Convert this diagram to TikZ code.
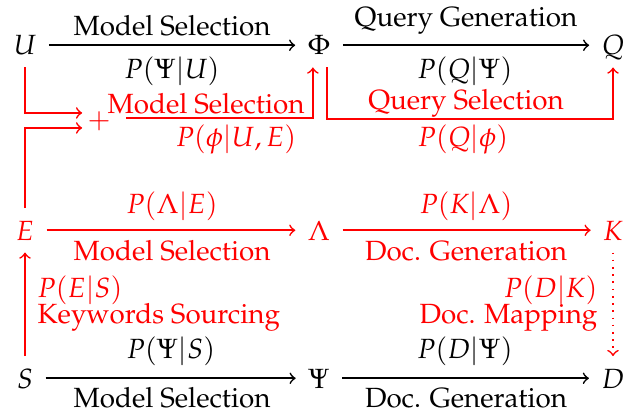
\documentclass[tikz,border=0pt]{standalone}
\usepackage[T1]{fontenc}
\usepackage{mathpazo}
\tikzset{
  mnode/.style={anchor=base, text height=7pt, text depth=0pt, inner sep=3.5pt, outer sep=1pt},
  lab/.style={anchor=base, inner sep=0pt},
  arr/.style={->, line width=0.6pt},
  redarr/.style={->, red, line width=0.6pt},
}
\begin{document}
\begin{tikzpicture}[x=0.36pt, y=-0.36pt]
\useasboundingbox (0,0) rectangle (636,415);
% main nodes
\node[mnode] (U)   at (25,55)   {$U$};
\node[mnode] (Phi) at (319,55)  {$\Phi$};
\node[mnode] (Q)   at (613,55)  {$Q$};
\node[mnode, red] (E)   at (25,240)  {$E$};
\node[mnode, red] (Lam) at (319,240) {$\Lambda$};
\node[mnode, red] (K)   at (613,240) {$K$};
\node[mnode] (S)   at (25,388)  {$S$};
\node[mnode] (Psi) at (319,388) {$\Psi$};
\node[mnode] (D)   at (613,388) {$D$};
\node[red, inner sep=0pt] (plus) at (99,121) {$+$};
% black arrows
\draw[arr] (U) -- (Phi);
\draw[arr] (Phi) -- (Q);
\draw[arr] (S) -- (Psi);
\draw[arr] (Psi) -- (D);
% red arrows
\draw[redarr] (E) -- (Lam);
\draw[redarr] (Lam) -- (K);
\draw[redarr] (S) -- (E);
\draw[redarr, dotted] (K) -- (D);
\draw[redarr] (U.south) |- ([xshift=-1.7pt,yshift=2.9pt]plus.west);
\draw[redarr] (E.north) |- ([xshift=-1.7pt,yshift=-2.5pt]plus.west);
\draw[redarr] ([xshift=5.5pt,yshift=1pt]plus.east) -| ([xshift=-2.2pt]Phi.south);
\coordinate (qline) at (466,119);
\draw[redarr] ([xshift=2.9pt]Phi.south) |- (qline) -| (Q.south);
% black labels
\node[lab] (l1) at (172,36) {Model Selection};
\node[lab] (l2) at (172,79) {$P(\Psi|U)$};
\node[lab] (l3) at (466,27) {Query Generation};
\node[lab] (l4) at (465,79) {$P(Q|\Psi)$};
\node[lab] (l5) at (171,358) {$P(\Psi|S)$};
\node[lab] (l6) at (172,407) {Model Selection};
\node[lab] (l7) at (465,358) {$P(D|\Psi)$};
\node[lab] (l8) at (466,407) {Doc. Generation};
% red labels
\begin{scope}[red]
\node[lab] (r1) at (206,114) {Model Selection};
\node[lab] (r2) at (236,147) {$P(\phi|U,E)$};
\node[lab] (r3) at (466,110) {Query Selection};
\node[lab] (r4) at (463,147) {$P(Q|\phi)$};
\node[lab] (r5) at (172,213) {$P(\Lambda|E)$};
\node[lab] (r6) at (172,260) {Model Selection};
\node[lab] (r7) at (466,213) {$P(K|\Lambda)$};
\node[lab] (r8) at (466,260) {Doc. Generation};
\node[lab, anchor=base west] (r9) at (37,297) {$P(E|S)$};
\node[lab, anchor=base west] (r10) at (37,323) {Keywords Sourcing};
\node[lab, anchor=base east] (r11) at (598,297) {$P(D|K)$};
\node[lab, anchor=base east] (r12) at (598,323) {Doc. Mapping};
\end{scope}
\end{tikzpicture}
\end{document}
